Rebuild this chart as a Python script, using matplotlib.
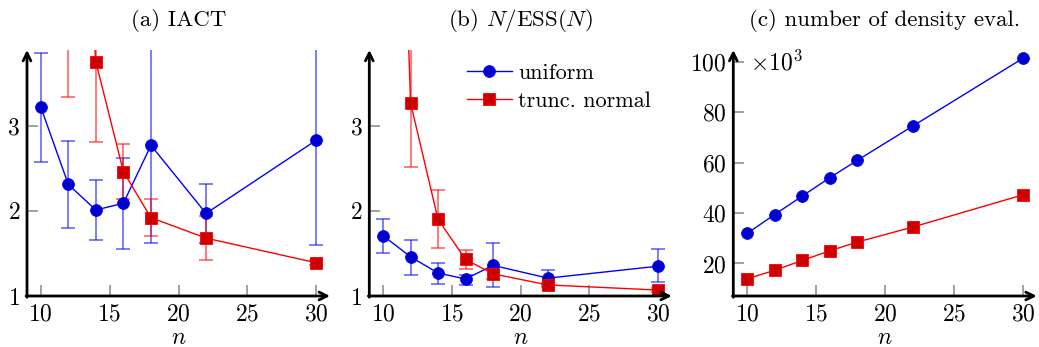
import numpy as np
import matplotlib
matplotlib.use('Agg')
import matplotlib.pyplot as plt

plt.rcParams['font.family'] = 'serif'
plt.rcParams['font.serif'] = ['cmr10']
plt.rcParams['mathtext.fontset'] = 'cm'
plt.rcParams['axes.formatter.use_mathtext'] = True
plt.rcParams['font.size'] = 17

n = [10, 12, 14, 16, 18, 22, 30]

# (a) IACT
iact_uni = [3.22, 2.31, 2.01, 2.09, 2.77, 1.97, 2.83]
iact_uni_lo = [2.57, 1.80, 1.66, 1.55, 1.62, 1.62, 1.60]
iact_uni_hi = [3.86, 2.82, 2.36, 2.62, 3.95, 2.32, 4.10]
iact_tn = [14.0, 8.0, 3.75, 2.46, 1.92, 1.68, 1.39]
iact_tn_lo = [12.0, 3.34, 2.81, 2.14, 1.71, 1.42, 1.36]
iact_tn_hi = [16.0, 12.0, 4.70, 2.78, 2.14, 1.94, 1.42]

# (b) N/ESS(N)
ess_uni = [1.71, 1.46, 1.27, 1.20, 1.36, 1.21, 1.35]
ess_uni_lo = [1.51, 1.25, 1.14, 1.13, 1.11, 1.13, 1.16]
ess_uni_hi = [1.91, 1.66, 1.39, 1.25, 1.62, 1.31, 1.55]
ess_tn = [13.0, 3.27, 1.90, 1.43, 1.26, 1.13, 1.07]
ess_tn_lo = [11.0, 2.51, 1.56, 1.32, 1.20, 1.11, 1.05]
ess_tn_hi = [15.0, 4.05, 2.24, 1.54, 1.32, 1.15, 1.09]

# (c) number of density evaluations (x 10^3)
dens_uni = [31.9, 39.4, 46.7, 54.0, 60.9, 74.4, 101.3]
dens_tn = [13.9, 17.3, 21.2, 25.0, 28.5, 34.4, 47.2]

blue_line = '#0000ff'
blue_fill = '#0000cc'
red_line = '#ff0000'
red_fill = '#cc0000'

fig = plt.figure(figsize=(10.39, 3.47), dpi=100)
W, H = 1039, 347
boxes = [(27, 330), (369.3, 671.7), (733.3, 1036.7)]
top_px, bot_px = 50, 296
axes = []
for l, r in boxes:
    ax = fig.add_axes([l / W, (H - bot_px) / H, (r - l) / W, (bot_px - top_px) / H])
    axes.append(ax)


def style(ax, ylim, yticks):
    ax.set_xlim(9, 31)
    ax.set_ylim(*ylim)
    ax.set_xticks([10, 15, 20, 25, 30])
    ax.set_yticks(yticks)
    for s in ax.spines.values():
        s.set_visible(False)
    ax.tick_params(direction='in', length=8, width=1.1, color='#888888',
                   labelsize=17, pad=5)
    ax.annotate('', xy=(1.0, 0), xytext=(-0.003, 0), xycoords='axes fraction',
                arrowprops=dict(arrowstyle='->', lw=2.0, color='black',
                                mutation_scale=14, shrinkA=0, shrinkB=0),
                annotation_clip=False)
    ax.annotate('', xy=(0, 1.0), xytext=(0, -0.005), xycoords='axes fraction',
                arrowprops=dict(arrowstyle='->', lw=2.0, color='black',
                                mutation_scale=14, shrinkA=0, shrinkB=0),
                annotation_clip=False)
    ax.set_xlabel('$n$', labelpad=1, fontsize=17)


def err(vals, lo, hi):
    v = np.array(vals)
    return [v - np.array(lo), np.array(hi) - v]


def draw(ax, y, lo, hi, color_l, color_f, marker, label=None, ebar=True):
    if ebar:
        ax.errorbar(n, y, yerr=err(y, lo, hi), fmt='none', ecolor=color_l,
                    alpha=0.6, elinewidth=1.2, capsize=5, capthick=1.2, zorder=2)
    ax.plot(n, y, color=color_l, lw=1.0, marker=marker, ms=8.5,
            mfc=color_f, mec=color_l, mew=0.6, label=label, zorder=3)


ax = axes[0]
draw(ax, iact_uni, iact_uni_lo, iact_uni_hi, blue_line, blue_fill, 'o')
draw(ax, iact_tn, iact_tn_lo, iact_tn_hi, red_line, red_fill, 's')
style(ax, (1, 3.89), [1, 2, 3])
ax.set_title('(a) IACT', fontsize=16.5, pad=17)

ax = axes[1]
draw(ax, ess_uni, ess_uni_lo, ess_uni_hi, blue_line, blue_fill, 'o', 'uniform')
draw(ax, ess_tn, ess_tn_lo, ess_tn_hi, red_line, red_fill, 's', 'trunc. normal')
style(ax, (1, 3.89), [1, 2, 3])
ax.set_title('(b) $N$/ESS($N$)', fontsize=16.5, pad=17)
ax.legend(loc='upper left', bbox_to_anchor=(0.272, 1.01), frameon=False,
          fontsize=16, handlelength=2.0, handletextpad=0.3, labelspacing=0.4,
          borderpad=0.2)

ax = axes[2]
ax.plot(n, dens_uni, color=blue_line, lw=1.0, marker='o', ms=8.5,
        mfc=blue_fill, mec=blue_line, mew=0.6, zorder=3)
ax.plot(n, dens_tn, color=red_line, lw=1.0, marker='s', ms=8.5,
        mfc=red_fill, mec=red_line, mew=0.6, zorder=3)
style(ax, (7.1, 104.6), [20, 40, 60, 80, 100])
ax.text(0.055, 0.947, r'$\times10^3$', transform=ax.transAxes, fontsize=17,
        ha='left', va='center')
ax.set_title('(c) number of density eval.', fontsize=16.5, pad=17)

fig.savefig('out.png', dpi=100)
